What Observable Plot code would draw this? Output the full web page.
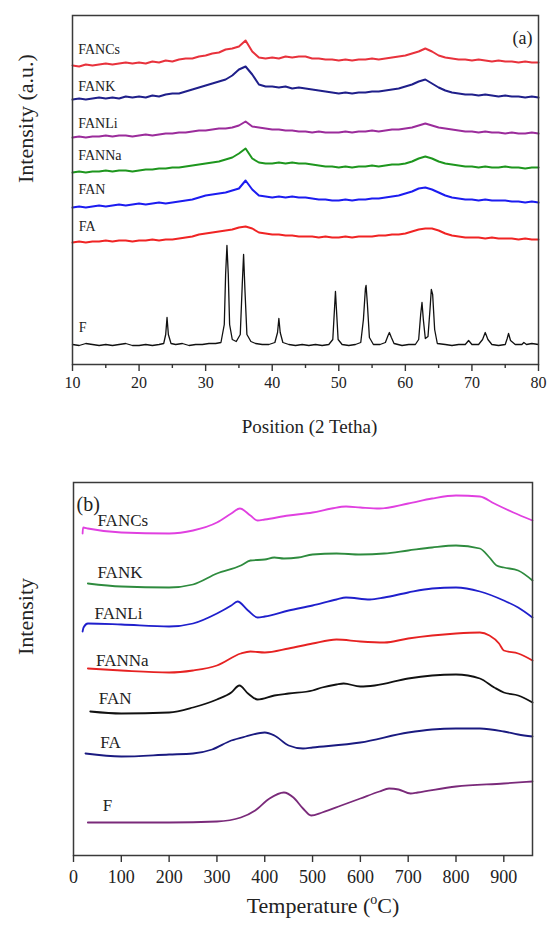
<!DOCTYPE html>
<html><head><meta charset="utf-8">
<script src="https://cdn.jsdelivr.net/npm/d3@7"></script>
<script src="https://cdn.jsdelivr.net/npm/@observablehq/plot@0.6"></script>
<style>body{margin:0;background:#fff} #chart svg{display:block}</style>
</head><body><div id="chart"></div>
<script>
const serif = "'Liberation Serif', 'Times New Roman', serif";

// ---------- Panel (a): XRD ----------
const gridA = d3.range(10, 81, 1); // 2-theta sampling, degrees
const namesA = ["FANCs","FANK","FANLi","FANNa","FAN","FA"];
const colorsA = ["#e8323c","#1f1f8a","#9b2c9b","#1e961e","#1c1cf0","#f02424"];
const xrdFANCs = [299,298,300,299,300,301,300,301,302,301,302,301,303,302,304,303,305,306,306,308,309,311,312,315,316,318,324,313,307,306,307,306,308,307,308,308,306,306,305,305,304,305,304,305,305,306,305,306,307,308,309,311,313,316,313,309,307,306,305,305,304,305,304,303,304,303,303,302,303,302,302];
const xrdFANK = [265,266,265,266,267,266,267,266,268,267,268,267,269,268,270,271,271,273,275,277,279,281,283,285,289,295,298,290,280,278,278,277,278,276,277,276,275,274,273,272,271,272,271,272,272,273,273,274,275,276,278,280,283,285,281,277,274,272,271,270,270,269,270,269,268,269,268,268,267,268,267];
const xrdFANLi = [227,228,227,228,228,229,228,229,229,228,229,230,229,230,231,231,232,232,233,234,234,235,236,236,237,239,243,238,237,236,235,235,234,234,233,233,232,233,232,232,232,233,232,233,233,234,233,234,235,235,236,237,239,241,239,237,236,235,234,233,233,232,233,232,232,231,232,231,231,232,231];
const xrdFANNa = [192,193,192,193,193,194,193,194,194,193,194,195,195,196,196,197,197,198,199,200,201,202,203,205,207,211,216,206,202,201,201,202,201,202,201,201,200,199,198,198,197,198,197,198,198,199,198,199,200,200,201,203,206,208,206,203,201,200,199,198,198,197,198,197,197,198,197,197,196,197,197];
const xrdFAN = [157,158,157,158,159,158,159,160,159,160,161,160,161,162,161,162,163,164,165,167,169,170,171,172,174,176,184,175,169,168,167,168,167,168,167,167,166,165,165,164,164,165,164,165,165,166,166,167,168,169,171,173,176,177,175,172,169,167,166,165,165,164,165,164,164,164,163,163,162,163,162];
const xrdFA = [122,123,122,123,123,124,123,124,124,123,124,124,125,124,125,125,126,127,128,130,131,132,133,134,135,137,138,136,132,131,130,130,129,129,128,128,128,127,128,127,127,128,127,128,128,128,129,129,130,130,131,133,135,136,136,134,131,129,128,127,127,127,126,127,126,126,126,125,126,125,125];
const xrdSeriesA = [xrdFANCs, xrdFANK, xrdFANLi, xrdFANNa, xrdFAN, xrdFA];
// crystalline F pattern (denser sampling around reflections)
const fTheta = [10,11,12,13,14,15,16,17,18,19,20,21,22,23,23.7,24.0,24.2,24.4,24.8,25.5,26.5,27.5,28.5,29.5,30.5,31.5,32.3,32.8,33.0,33.2,33.4,33.6,34.0,34.6,35.2,35.5,35.7,35.9,36.2,36.8,37.5,38.5,39.5,40.4,40.8,41.0,41.2,41.6,42.5,43.5,44.5,45.5,46.5,47.5,48.5,49.1,49.35,49.5,49.65,49.9,50.5,51.5,52.5,53.3,53.7,54.0,54.1,54.3,54.6,55.2,56.2,57.0,57.4,57.6,57.9,58.3,59.5,60.5,61.5,62.0,62.3,62.5,62.7,63.0,63.4,63.7,63.9,64.1,64.4,64.8,66,67,68,69,69.5,70,71,71.6,72.0,72.4,73,74,75,75.3,75.5,75.8,76.5,77.5,77.8,78.2,79,80];
const fInt = [20,19,21,20,19,20,19,20,21,19,19,20,19,20,21,30,47,30,21,20,21,19,20,20,21,21,22,40,90,119,90,40,25,23,30,80,110,75,30,23,21,20,20,22,32,46,32,22,20,19,20,19,20,19,20,25,55,73,55,25,20,19,20,22,45,76,79,60,27,20,20,22,29,32,27,21,19,20,20,25,50,62,45,26,28,55,75,70,35,21,20,19,20,20,24,20,20,25,32,25,20,19,20,26,31,24,20,20,22,20,21,20];
const labelsA = ["FANCs","FANK","FANLi","FANNa","FAN","FA","F"];
const labelXA = [10.1,10.1,10.1,10.1,10.15,10.2,10.2];
const labelYA = [315,278,241,209,175,138,37];
const ticksA = [10,20,30,40,50,60,70,80];
const minorA = [15,25,35,45,55,65,75];

// ---------- Panel (b): thermal ----------
const namesB = ["FANCs","FANK","FANLi","FANNa","FAN","FA","F"];
const colorsB = ["#e040e0","#2e8b3e","#1f1fcc","#e62222","#111111","#1a1a80","#7a2a7a"];
const tFANCs = [19,20,30,100,200,250,300,330,348,370,385,400,450,500,540,570,600,640,700,750,800,850,880,920,960];
const iFANCs = [322,328,327,323,322,325,333,342,347,340,335,336,340,343,347,349,348,347,352,357,360,359,352,343,335];
const tFANK = [30,100,200,250,300,350,370,400,420,440,470,500,550,600,650,700,750,800,850,870,885,900,930,960];
const iFANK = [272,269,268,271,282,290,295,296,298,297,298,301,302,301,302,305,308,310,307,298,290,288,285,275];
const tFANLi = [19,21,30,100,200,250,300,330,343,365,385,400,450,500,550,570,620,650,700,750,800,850,900,930,960];
const iFANLi = [224,228,232,231,229,232,242,250,254,245,238,239,245,250,256,258,256,258,263,267,268,264,255,248,238];
const tFANNa = [30,100,200,250,300,350,370,400,450,500,550,600,650,700,750,800,850,870,890,900,930,960];
const iFANNa = [187,185,183,185,190,202,204,203,207,212,216,214,213,217,220,222,223,220,212,205,202,195];
const tFAN = [35,100,200,250,300,330,347,365,385,420,450,500,520,550,565,600,630,700,750,800,850,880,900,930,960];
const iFAN = [144,142,143,148,156,163,170,162,156,160,162,165,168,171,172,169,170,177,180,181,177,168,163,160,153];
const tFA = [25,100,200,250,290,330,360,400,420,450,480,500,600,700,750,800,850,900,930,960];
const iFA = [102,99,101,102,106,115,119,123,120,110,107,108,113,123,126,127,127,124,121,119];
const tF = [30,100,200,300,350,380,410,440,460,480,497,520,560,600,640,660,680,705,720,800,900,960];
const iF = [33,33,33,34,38,45,57,63,58,47,40,43,50,57,64,67,66,62,63,69,72,74];
const seriesBT = [tFANCs,tFANK,tFANLi,tFANNa,tFAN,tFA,tF];
const seriesBI = [iFANCs,iFANK,iFANLi,iFANNa,iFAN,iFA,iF];
const labelXB = [50,50,44,47,53,56,61];
const labelYB = [335,283,242,195,157,113,50];
const ticksB = [0,100,200,300,400,500,600,700,800,900];

// ---------- build ----------
const rowsOf = (xs, ys) => xs.map((x, i) => ({x, y: ys[i]}));

const marksA = [];
xrdSeriesA.forEach((vals, k) => {
  marksA.push(Plot.line(rowsOf(gridA, vals), {x: "x", y: "y", stroke: colorsA[k], strokeWidth: 2, curve: "linear"}));
});
marksA.push(Plot.line(rowsOf(fTheta, fInt), {x: "x", y: "y", stroke: "#111", strokeWidth: 1.3}));
marksA.push(Plot.text(labelsA.map((t, i) => ({t, x: labelXA[i], y: labelYA[i]})), {x: "x", y: "y", text: "t", textAnchor: "start", fontSize: 14, fontFamily: serif, fill: "#222", dx: 5}));
marksA.push(Plot.frame({stroke: "#3a3a3a", strokeWidth: 1.5}));
marksA.push(Plot.axisX({ticks: ticksA, tickSize: 7, tickPadding: 5, fontSize: 16, fontFamily: serif, label: null, strokeWidth: 1.4, stroke: "#333", fill: "#222"}));
marksA.push(Plot.axisX({ticks: minorA, tickSize: 4, tickFormat: () => "", label: null, strokeWidth: 1.4, stroke: "#333"}));
marksA.push(Plot.text(["Position (2 Tetha)"], {frameAnchor: "bottom", dy: 68, dx: 4, fontSize: 19, fontFamily: serif, fill: "#222", text: d => d}));
marksA.push(Plot.text(["Intensity (a.u.)"], {frameAnchor: "left", dx: -47, dy: -7, rotate: -90, fontSize: 22, fontFamily: serif, fill: "#222", text: d => d}));
marksA.push(Plot.text(["(a)"], {frameAnchor: "top-right", dx: -6, dy: 16, textAnchor: "end", fontSize: 18, fontFamily: serif, fill: "#222", text: d => d}));

const plotA = Plot.plot({
  width: 547, height: 465,
  marginTop: 15, marginBottom: 101, marginLeft: 72, marginRight: 9,
  style: {fontFamily: serif, background: "#fff", fontSize: "16px"},
  x: {domain: [10, 80]},
  y: {domain: [0, 349], axis: null},
  marks: marksA
});

const marksB = [];
seriesBT.forEach((ts, k) => {
  marksB.push(Plot.line(rowsOf(ts, seriesBI[k]), {x: "x", y: "y", stroke: colorsB[k], strokeWidth: 1.8, curve: "monotone-x"}));
});
marksB.push(Plot.text(namesB.map((t, i) => ({t, x: labelXB[i], y: labelYB[i]})), {x: "x", y: "y", text: "t", textAnchor: "start", fontSize: 17, fontFamily: serif, fill: "#222"}));
marksB.push(Plot.frame({stroke: "#3a3a3a", strokeWidth: 1.5}));
marksB.push(Plot.axisX({ticks: ticksB, tickSize: 7, tickPadding: 8, fontSize: 18, fontFamily: serif, label: null, strokeWidth: 1.4, stroke: "#333", fill: "#222"}));
marksB.push(Plot.text(["Temperature (oC)"], {frameAnchor: "bottom", dy: 57, dx: 20, fontSize: 22, fontFamily: serif, fill: "#222", text: d => d}));
marksB.push(Plot.text(["Intensity"], {frameAnchor: "left", dx: -48, dy: -14, rotate: -90, fontSize: 22, fontFamily: serif, fill: "#222", text: d => d}));
marksB.push(Plot.text(["(b)"], {frameAnchor: "top-left", dx: 3, dy: 14, textAnchor: "start", fontSize: 20, fontFamily: serif, fill: "#222", text: d => d}));

const plotB = Plot.plot({
  width: 547, height: 460,
  marginTop: 17, marginBottom: 70, marginLeft: 73, marginRight: 15,
  style: {fontFamily: serif, background: "#fff", fontSize: "16px"},
  x: {domain: [0, 960]},
  y: {domain: [0, 373], axis: null},
  marks: marksB
});

const chart = document.getElementById("chart");
chart.appendChild(plotA);
chart.appendChild(plotB);

// superscript "o" in the temperature unit
d3.select(plotB).selectAll("text").filter(function() { return this.textContent === "Temperature (oC)"; })
  .each(function() {
    const t = d3.select(this);
    t.text(null);
    t.append("tspan").text("Temperature (");
    t.append("tspan").attr("dy", "-9").attr("font-size", "14").text("o");
    t.append("tspan").attr("dy", "9").text("C)");
  });
</script>
</body></html>
